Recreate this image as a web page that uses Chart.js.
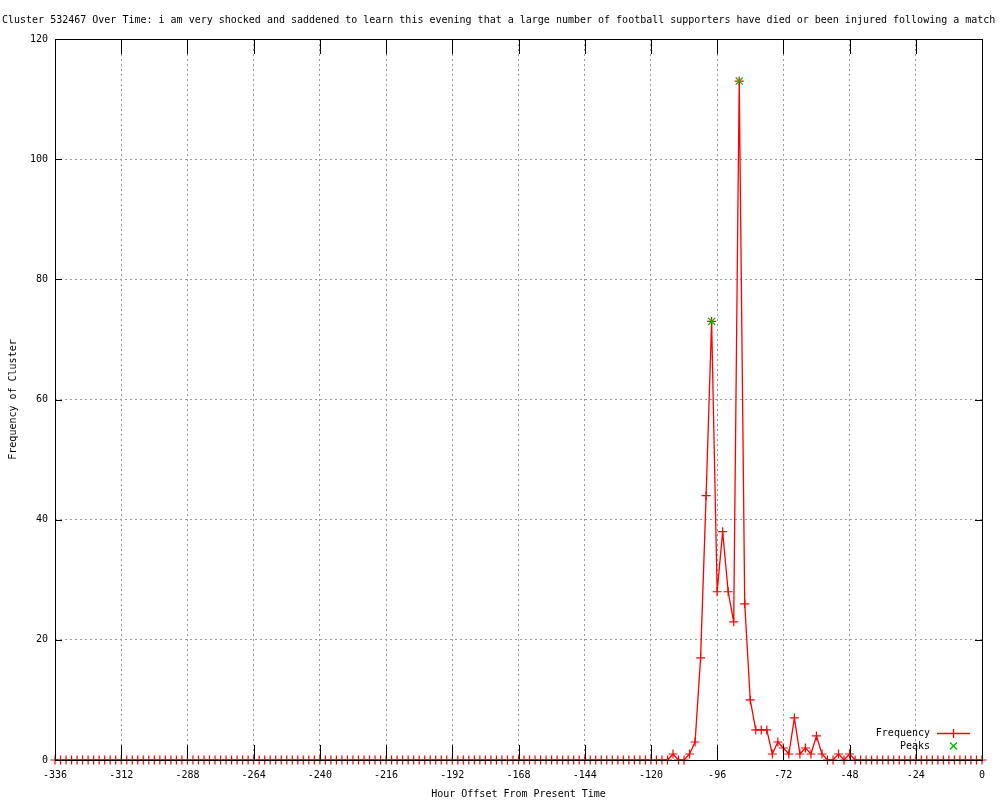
<!DOCTYPE html>
<html>
<head>
<meta charset="utf-8">
<title>Cluster 532467 Over Time</title>
<script src="https://cdn.jsdelivr.net/npm/chart.js@4.4.1/dist/chart.umd.min.js"></script>
<style>
  html, body { margin: 0; padding: 0; background: #fff; }
  canvas { display: block; }
</style>
</head>
<body>
<canvas id="myChart" width="1000" height="800"></canvas>
<script>
(function() {
  var chartTitle = 'Cluster 532467 Over Time: i am very shocked and saddened to learn this evening that a large number of football supporters have died or been injured following a match :';
  var xTitle = 'Hour Offset From Present Time';
  var yTitle = 'Frequency of Cluster';

  // hour offsets, one bin every 2 hours
  var hours = [
    -336, -334, -332, -330, -328, -326, -324, -322, -320, -318, -316, -314,
    -312, -310, -308, -306, -304, -302, -300, -298, -296, -294, -292, -290,
    -288, -286, -284, -282, -280, -278, -276, -274, -272, -270, -268, -266,
    -264, -262, -260, -258, -256, -254, -252, -250, -248, -246, -244, -242,
    -240, -238, -236, -234, -232, -230, -228, -226, -224, -222, -220, -218,
    -216, -214, -212, -210, -208, -206, -204, -202, -200, -198, -196, -194,
    -192, -190, -188, -186, -184, -182, -180, -178, -176, -174, -172, -170,
    -168, -166, -164, -162, -160, -158, -156, -154, -152, -150, -148, -146,
    -144, -142, -140, -138, -136, -134, -132, -130, -128, -126, -124, -122,
    -120, -118, -116, -114, -112, -110, -108, -106, -104, -102, -100, -98,
    -96, -94, -92, -90, -88, -86, -84, -82, -80, -78, -76, -74,
    -72, -70, -68, -66, -64, -62, -60, -58, -56, -54, -52, -50,
    -48, -46, -44, -42, -40, -38, -36, -34, -32, -30, -28, -26,
    -24, -22, -20, -18, -16, -14, -12, -10, -8, -6, -4, -2,
    0
  ];

  var frequency = [
    0, 0, 0, 0, 0, 0, 0, 0, 0, 0, 0, 0,
    0, 0, 0, 0, 0, 0, 0, 0, 0, 0, 0, 0,
    0, 0, 0, 0, 0, 0, 0, 0, 0, 0, 0, 0,
    0, 0, 0, 0, 0, 0, 0, 0, 0, 0, 0, 0,
    0, 0, 0, 0, 0, 0, 0, 0, 0, 0, 0, 0,
    0, 0, 0, 0, 0, 0, 0, 0, 0, 0, 0, 0,
    0, 0, 0, 0, 0, 0, 0, 0, 0, 0, 0, 0,
    0, 0, 0, 0, 0, 0, 0, 0, 0, 0, 0, 0,
    0, 0, 0, 0, 0, 0, 0, 0, 0, 0, 0, 0,
    0, 0, 0, 0, 1, 0, 0, 1, 3, 17, 44, 73,
    28, 38, 28, 23, 113, 26, 10, 5, 5, 5, 1, 3,
    2, 1, 7, 1, 2, 1, 4, 1, 0, 0, 1, 0,
    1, 0, 0, 0, 0, 0, 0, 0, 0, 0, 0, 0,
    0, 0, 0, 0, 0, 0, 0, 0, 0, 0, 0, 0,
    0
  ];

  var peakHours = [-98, -88];
  var peakValues = [73, 113];

  var xTickValues = [-336, -312, -288, -264, -240, -216, -192, -168, -144, -120, -96, -72, -48, -24, 0];
  var yTickValues = [0, 20, 40, 60, 80, 100, 120];

  var FONT = '"DejaVu Sans Mono", "Liberation Mono", monospace';
  var FREQ_COLOR = '#ff0000';
  var PEAK_COLOR = '#00c000';

  // gnuplot-like frame, inward tics, titles and key
  var gnuplotDecor = {
    id: 'gnuplotDecor',
    afterDraw: function (chart) {
      var ctx = chart.ctx;
      var a = chart.chartArea;
      var xs = chart.scales.x;
      var ys = chart.scales.y;
      ctx.save();

      ctx.strokeStyle = '#000000';
      ctx.lineWidth = 1;
      ctx.beginPath();
      xs.ticks.forEach(function (t) {
        var px = Math.round(xs.getPixelForValue(t.value)) + 0.5;
        ctx.moveTo(px, a.bottom); ctx.lineTo(px, a.bottom - 15);
        ctx.moveTo(px, a.top); ctx.lineTo(px, a.top + 15);
      });
      ys.ticks.forEach(function (t) {
        var py = Math.round(ys.getPixelForValue(t.value)) + 0.5;
        ctx.moveTo(a.left, py); ctx.lineTo(a.left + 7, py);
        ctx.moveTo(a.right, py); ctx.lineTo(a.right - 7, py);
      });
      ctx.stroke();
      ctx.strokeRect(Math.round(a.left) + 0.5, Math.round(a.top) + 0.5,
        Math.round(a.right - a.left), Math.round(a.bottom - a.top));

      ctx.fillStyle = '#000000';
      ctx.font = '10px ' + FONT;
      ctx.textBaseline = 'alphabetic';
      ctx.textAlign = 'left';
      ctx.fillText(chartTitle, 2, 23);

      ctx.textAlign = 'center';
      ctx.fillText(xTitle, (a.left + a.right) / 2, 797);

      ctx.save();
      ctx.translate(13, (a.top + a.bottom) / 2);
      ctx.rotate(-Math.PI / 2);
      ctx.textBaseline = 'middle';
      ctx.fillText(yTitle, 0, 0);
      ctx.restore();

      // key
      ctx.textAlign = 'right';
      ctx.textBaseline = 'middle';
      ctx.fillText('Frequency', 930, 733);
      ctx.fillText('Peaks', 930, 746);

      ctx.lineWidth = 1.3;
      ctx.strokeStyle = FREQ_COLOR;
      ctx.beginPath();
      ctx.moveTo(937, 733.5); ctx.lineTo(970, 733.5);
      ctx.moveTo(953.5, 729); ctx.lineTo(953.5, 738);
      ctx.stroke();

      ctx.lineWidth = 1.5;
      ctx.strokeStyle = PEAK_COLOR;
      ctx.beginPath();
      ctx.moveTo(950, 742.5); ctx.lineTo(957, 749.5);
      ctx.moveTo(957, 742.5); ctx.lineTo(950, 749.5);
      ctx.stroke();

      ctx.restore();
    }
  };

  var chart = new Chart(document.getElementById('myChart').getContext('2d'), {
    type: 'line',
    data: {
      datasets: [
        {
          label: 'Peaks',
          data: peakHours.map(function (h, i) { return { x: h, y: peakValues[i] }; }),
          showLine: false,
          pointStyle: 'crossRot',
          pointRadius: 5,
          pointBorderWidth: 1.3,
          pointBorderColor: PEAK_COLOR,
          pointBackgroundColor: PEAK_COLOR,
          order: 0,
          clip: false
        },
        {
          label: 'Frequency',
          data: hours.map(function (h, i) { return { x: h, y: frequency[i] }; }),
          borderColor: FREQ_COLOR,
          borderWidth: 1.3,
          tension: 0,
          pointStyle: 'cross',
          pointRadius: 4.5,
          pointBorderWidth: 1.2,
          pointBorderColor: FREQ_COLOR,
          pointBackgroundColor: FREQ_COLOR,
          order: 1,
          clip: false
        }
      ]
    },
    options: {
      responsive: false,
      animation: false,
      devicePixelRatio: 1,
      layout: { padding: { left: 0, right: 18, top: 39, bottom: 0 } },
      plugins: {
        legend: { display: false },
        title: { display: false },
        tooltip: { enabled: false }
      },
      scales: {
        x: {
          type: 'linear',
          min: -336,
          max: 0,
          afterBuildTicks: function (s) { s.ticks = xTickValues.map(function (v) { return { value: v }; }); },
          afterFit: function (s) { s.height = 40; },
          grid: { color: '#999999', lineWidth: 1, drawTicks: false },
          border: { display: false, dash: [2, 3] },
          ticks: {
            color: '#000',
            font: { family: FONT, size: 10 },
            padding: 9,
            maxRotation: 0,
            autoSkip: false
          }
        },
        y: {
          min: 0,
          max: 120,
          afterBuildTicks: function (s) { s.ticks = yTickValues.map(function (v) { return { value: v }; }); },
          afterFit: function (s) { s.width = 55; },
          grid: { color: '#999999', lineWidth: 1, drawTicks: false },
          border: { display: false, dash: [2, 3] },
          ticks: {
            color: '#000',
            font: { family: FONT, size: 10 },
            padding: 7
          }
        }
      }
    },
    plugins: [gnuplotDecor]
  });
})();
</script>
</body>
</html>
